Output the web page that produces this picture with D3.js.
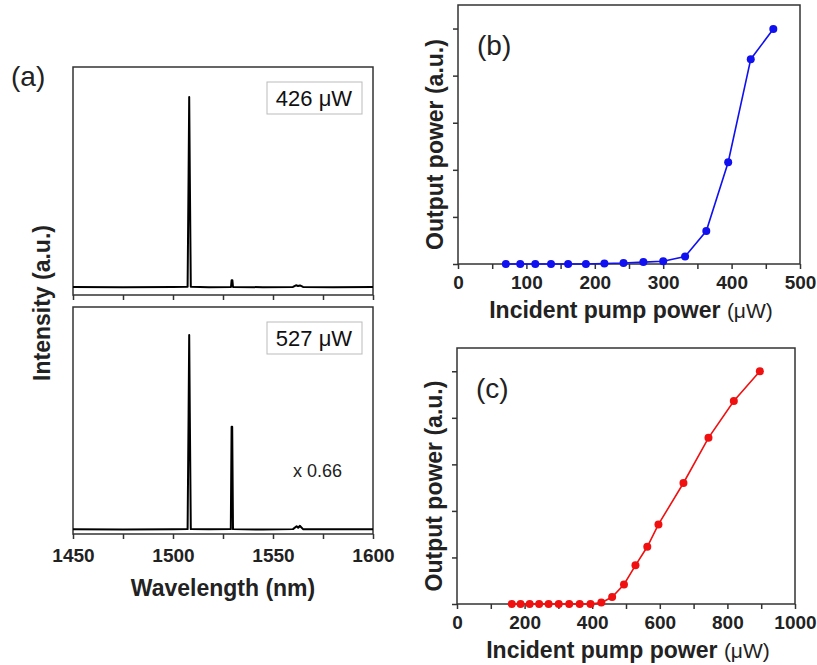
<!DOCTYPE html>
<html>
<head>
<meta charset="utf-8">
<script src="https://cdn.jsdelivr.net/npm/d3@7"></script>
<style>
  html, body { margin: 0; padding: 0; background: #fff; }
  svg { display: block; font-family: Arial, "Liberation Sans", sans-serif; }
  .frame { fill: none; stroke: #333; stroke-width: 1.5; }
  .tick line { stroke: #333; stroke-width: 1.5; }
  .domain { display: none; }
  .tick text { font-weight: bold; font-size: 19px; fill: #222; }
  .title { font-weight: bold; font-size: 23px; fill: #222; }
  .panel { font-size: 28px; fill: #222; }
</style>
</head>
<body>
<svg id="fig" width="817" height="665"></svg>
<script>
// spectra (wavelength nm, intensity normalised to main peak)
const spec426 = [
  [1450, 0.005], [1475, 0.004], [1500, 0.005], [1507.3, 0.006],
  [1507.8, 0.6], [1508.1, 1.0], [1508.4, 0.6], [1508.9, 0.006], [1518, 0.004],
  [1529.0, 0.005], [1529.3, 0.04], [1529.7, 0.04], [1530.0, 0.005], [1545, 0.004],
  [1560, 0.005], [1561.5, 0.014], [1562.5, 0.01], [1563.5, 0.013], [1565, 0.005],
  [1580, 0.004], [1600, 0.005]
];
const spec527 = [
  [1450, 0.004], [1475, 0.003], [1500, 0.004], [1507.3, 0.005],
  [1507.8, 0.6], [1508.1, 1.0], [1508.4, 0.6], [1508.9, 0.005], [1518, 0.004],
  [1528.9, 0.005], [1529.3, 0.53], [1529.6, 0.53], [1530.0, 0.005], [1545, 0.003],
  [1560, 0.005], [1561.8, 0.02], [1562.6, 0.012], [1563.4, 0.022], [1565, 0.005],
  [1580, 0.004], [1600, 0.005]
];
const wlTicks = [1450, 1500, 1550, 1600];

// L-L curves: incident pump power (µW) vs output power (a.u.)
const pumpB = [70, 91, 113, 136, 161, 187, 214, 242, 271, 300, 332, 363, 395, 428, 461];
const outB  = [0, 0, 0, 0, 0, 0, 0.01, 0.02, 0.04, 0.06, 0.16, 0.70, 2.16, 4.35, 4.99];
const pumpC = [162, 188, 215, 243, 271, 301, 332, 363, 395, 427, 459, 494, 528, 563, 596, 670, 744, 819, 896];
const outC  = [0, 0, 0, 0, 0, 0, 0, 0, 0, 0.03, 0.15, 0.42, 0.83, 1.23, 1.71, 2.60, 3.57, 4.36, 5.0];
const ticksB = [0, 100, 200, 300, 400, 500];
const ticksC = [0, 200, 400, 600, 800, 1000];

const svg = d3.select("#fig");

// ---- (a) two stacked spectra ----
const xA = d3.scaleLinear().domain([1450, 1600]).range([73, 373]);
const minorA = d3.range(1450, 1601, 25);

function spectrum(data, top, bottom, ymax, ymin, label, note) {
  const y = d3.scaleLinear().domain([ymin, ymax]).range([bottom, top]);
  const g = svg.append("g");
  g.append("g").attr("transform", `translate(0,${bottom})`)
    .call(d3.axisBottom(xA).tickValues(minorA).tickSize(5).tickFormat(""));
  g.append("rect").attr("class", "frame")
    .attr("x", 73).attr("y", top).attr("width", 300).attr("height", bottom - top);
  g.append("path").datum(data)
    .attr("fill", "none").attr("stroke", "#000").attr("stroke-width", 2)
    .attr("stroke-linejoin", "round")
    .attr("d", d3.line().x((d) => xA(d[0])).y((d) => y(d[1])));
  // power label box
  g.append("rect").attr("x", 267).attr("y", top + 15).attr("width", 95).attr("height", 32)
    .attr("fill", "#fff").attr("stroke", "#bbb").attr("stroke-width", 1);
  g.append("text").attr("x", 314).attr("y", top + 39).attr("text-anchor", "middle")
    .attr("font-size", 22).attr("fill", "#111").text(label);
  if (note) {
    g.append("text").attr("x", 293).attr("y", top + 170)
      .attr("font-size", 18).attr("fill", "#222").text(note);
  }
  return g;
}

spectrum(spec426, 67, 295, 1.157, -0.037, "426 \u03BCW");
spectrum(spec527, 307, 534, 1.144, -0.02, "527 \u03BCW", "x 0.66");

svg.append("g").attr("transform", "translate(0,534)")
  .call(d3.axisBottom(xA).tickValues(wlTicks).tickSize(0).tickPadding(15).tickFormat(d3.format("d")))
  .selectAll(".tick line").remove();

svg.append("text").attr("class", "title").attr("x", 223).attr("y", 596)
  .attr("text-anchor", "middle").text("Wavelength (nm)");
svg.append("text").attr("class", "title")
  .attr("transform", "translate(50,303) rotate(-90)")
  .attr("text-anchor", "middle").text("Intensity (a.u.)");
svg.append("text").attr("class", "panel").attr("x", 11).attr("y", 86).text("(a)");

// ---- (b), (c) light-in / light-out ----
function llPlot(px, py, col, opt) {
  const x = d3.scaleLinear().domain([0, opt.xmax]).range([opt.l, opt.r]);
  const y = d3.scaleLinear().domain([0, 5.5]).range([opt.b, opt.t]);
  const g = svg.append("g");
  g.append("g").attr("transform", `translate(0,${opt.b})`)
    .call(d3.axisBottom(x).tickValues(d3.range(0, opt.xmax + 1, opt.xmax / 10)).tickSize(5).tickFormat(""));
  g.append("g").attr("transform", `translate(0,${opt.b})`)
    .call(d3.axisBottom(x).tickValues(opt.ticks).tickSize(0).tickPadding(12).tickFormat(d3.format("d")));
  g.append("g").attr("transform", `translate(${opt.l},0)`)
    .call(d3.axisLeft(y).tickValues([0, 1, 2, 3, 4, 5]).tickSize(5).tickFormat(""));
  g.append("rect").attr("class", "frame")
    .attr("x", opt.l).attr("y", opt.t).attr("width", opt.r - opt.l).attr("height", opt.b - opt.t);
  const pts = px.map((v, k) => [v, py[k]]);
  g.append("path").datum(pts)
    .attr("fill", "none").attr("stroke", col).attr("stroke-width", 1.6)
    .attr("d", d3.line().x((d) => x(d[0])).y((d) => y(d[1])));
  g.selectAll("circle").data(pts).join("circle")
    .attr("cx", (d) => x(d[0])).attr("cy", (d) => y(d[1])).attr("r", 4)
    .attr("fill", col);
  const xt = g.append("text").attr("class", "title")
    .attr("x", (opt.l + opt.r) / 2 + 2).attr("y", opt.b + 54)
    .attr("text-anchor", "middle").text("Incident pump power ");
  xt.append("tspan").attr("font-weight", "normal").attr("font-size", 21).text("(\u03BCW)");
  g.append("text").attr("class", "title")
    .attr("transform", `translate(${opt.l - 15},${(opt.t + opt.b) / 2 + 10}) rotate(-90)`)
    .attr("text-anchor", "middle").text("Output power (a.u.)");
  g.append("text").attr("class", "panel").attr("x", opt.l + 19).attr("y", opt.t + 50).text(opt.tag);
}

llPlot(pumpB, outB, "#1010f0", { xmax: 500, ticks: ticksB, l: 458, r: 800, t: 5, b: 264, tag: "(b)" });
llPlot(pumpC, outC, "#f01010", { xmax: 1000, ticks: ticksC, l: 457, r: 795, t: 348, b: 604, tag: "(c)" });
</script>
</body>
</html>
